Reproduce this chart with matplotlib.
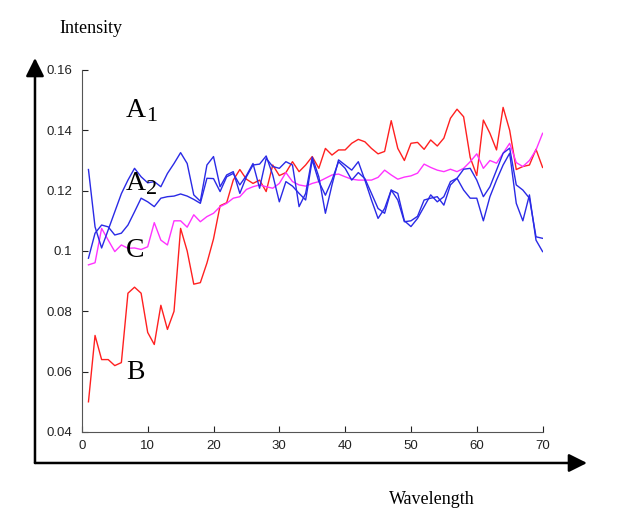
import numpy as np
import matplotlib.pyplot as plt
from matplotlib.patches import FancyArrowPatch

wl = np.arange(1, 71)

# кривая B (красная)
b_vals = [0.050, 0.072, 0.064, 0.064, 0.062, 0.063, 0.086, 0.088, 0.086, 0.073,
          0.069, 0.082, 0.074, 0.080, 0.1075, 0.100, 0.089, 0.0895, 0.096, 0.104,
          0.115, 0.116, 0.1235, 0.127, 0.1238, 0.1224, 0.1235, 0.1197, 0.1285, 0.125,
          0.126, 0.1296, 0.1263, 0.1285, 0.1313, 0.1274, 0.134, 0.1318, 0.1335, 0.1335,
          0.1357, 0.137, 0.1362, 0.134, 0.1322, 0.133, 0.1432, 0.134, 0.130, 0.1357,
          0.136, 0.1337, 0.1368, 0.1348, 0.1374, 0.144, 0.147, 0.1445, 0.131, 0.125,
          0.1434, 0.139, 0.1335, 0.1476, 0.140, 0.127, 0.128, 0.1285, 0.1337, 0.1277]

# кривая C (пурпурная)
c_vals = [0.0954, 0.0961, 0.1075, 0.1036, 0.0998, 0.102, 0.1009, 0.101, 0.1005, 0.1014,
          0.1094, 0.1036, 0.102, 0.110, 0.110, 0.1079, 0.112, 0.1097, 0.1114, 0.1125,
          0.1147, 0.1158, 0.1175, 0.118, 0.1204, 0.1213, 0.1219, 0.1213, 0.1208, 0.1224,
          0.126, 0.123, 0.1219, 0.1215, 0.1224, 0.123, 0.1241, 0.1252, 0.1255, 0.1246,
          0.1238, 0.1235, 0.1235, 0.1235, 0.1244, 0.1268, 0.1252, 0.1238, 0.1245, 0.1249,
          0.1258, 0.1288, 0.1277, 0.1268, 0.1263, 0.1271, 0.1263, 0.1274, 0.1296, 0.1322,
          0.1274, 0.130, 0.1291, 0.1324, 0.1357, 0.1293, 0.128, 0.130, 0.1335, 0.139]

# кривые A1, A2 (синие)
a1_vals = [0.127, 0.108, 0.101, 0.107, 0.113, 0.119, 0.1235, 0.1274, 0.1246, 0.1226,
           0.123, 0.1213, 0.1257, 0.129, 0.1326, 0.129, 0.1186, 0.1165, 0.1285, 0.1313,
           0.1213, 0.1252, 0.1263, 0.1191, 0.1246, 0.1285, 0.1288, 0.1315, 0.1252, 0.1163,
           0.123, 0.1215, 0.1191, 0.1169, 0.1302, 0.123, 0.1185, 0.1235, 0.1296, 0.1274,
           0.1235, 0.126, 0.124, 0.1191, 0.1141, 0.1125, 0.1202, 0.1169, 0.1097, 0.110,
           0.1115, 0.1169, 0.1175, 0.118, 0.1152, 0.1219, 0.1241, 0.1271, 0.1274, 0.1235,
           0.118, 0.1213, 0.1268, 0.1324, 0.1341, 0.1219, 0.1202, 0.1175, 0.1047, 0.1042]

a2_vals = [0.0976, 0.1059, 0.1086, 0.108, 0.1053, 0.1059, 0.1086, 0.113, 0.1175, 0.1163,
           0.1147, 0.1175, 0.118, 0.1182, 0.1189, 0.1182, 0.1171, 0.1158, 0.1241, 0.124,
           0.1197, 0.1246, 0.1257, 0.1219, 0.125, 0.129, 0.1208, 0.1307, 0.128, 0.1274,
           0.1296, 0.1285, 0.1147, 0.1191, 0.1311, 0.1246, 0.1125, 0.1219, 0.1302, 0.1285,
           0.1268, 0.1296, 0.1235, 0.1169, 0.1108, 0.1141, 0.1202, 0.1191, 0.110, 0.1081,
           0.1108, 0.1147, 0.1186, 0.1163, 0.118, 0.123, 0.1241, 0.1202, 0.1175, 0.1175,
           0.110, 0.118, 0.1235, 0.1285, 0.1324, 0.1158, 0.110, 0.1186, 0.1036, 0.0998]

x_ticks = [0, 10, 20, 30, 40, 50, 60, 70]
y_ticks = [0.04, 0.06, 0.08, 0.1, 0.12, 0.14, 0.16]
y_tick_labels = ['0.04', '0.06', '0.08', '0.1', '0.12', '0.14', '0.16']

fig = plt.figure(figsize=(6.17, 5.15), dpi=100)
ax = fig.add_axes([0.1327, 0.1612, 0.7467, 0.7029])

ax.plot(wl, b_vals, color='#ff2020', lw=1)
ax.plot(wl, c_vals, color='#ff33ff', lw=1)
ax.plot(wl, a1_vals, color='#2a2ae6', lw=1)
ax.plot(wl, a2_vals, color='#2a2ae6', lw=1)

ax.set_xlim(0, 70)
ax.set_ylim(0.04, 0.16)
ax.set_xticks(x_ticks)
ax.set_yticks(y_ticks)
ax.set_yticklabels(y_tick_labels)
ax.tick_params(direction='in', length=4, width=0.8, colors='#222222',
               labelsize=9.5, labelfontfamily='Liberation Sans')
ax.tick_params(axis='y', pad=7)
ax.tick_params(axis='x', pad=6)
ax.spines['top'].set_visible(False)
ax.spines['right'].set_visible(False)
for s in ['left', 'bottom']:
    ax.spines[s].set_color('#555555')
    ax.spines[s].set_linewidth(0.8)

# подписи кривых (индекс рисуем отдельно, крупнее чем в mathtext)
lbl = dict(fontsize=20, family='Liberation Serif', color='black')
sub = dict(fontsize=16, family='Liberation Serif', color='black',
           textcoords='offset points', xytext=(14.5, -2.5))
ax.text(6.7, 0.1444, 'A', **lbl)
ax.annotate('1', xy=(6.7, 0.1444), **sub)
ax.text(6.7, 0.1202, 'A', **lbl)
ax.annotate('2', xy=(6.7, 0.1202), **sub)
ax.text(6.7, 0.098, 'C', **lbl)
ax.text(6.7, 0.0576, 'B', **lbl)

# стрелки осей
arr = dict(arrowstyle='-|>,head_length=1.1,head_width=0.55', mutation_scale=10,
           color='black', lw=1.8, transform=fig.transFigure, shrinkA=0, shrinkB=0)
fig.add_artist(FancyArrowPatch((0.0567, 0.1010), (0.0567, 0.8874), **arr))
fig.add_artist(FancyArrowPatch((0.0567, 0.1010), (0.9514, 0.1010), **arr))

fig.text(0.147, 0.945, 'Intensity', fontsize=13, family='Liberation Serif',
         ha='center', va='center')
fig.text(0.70, 0.031, 'Wavelength', fontsize=13, family='Liberation Serif',
         ha='center', va='center')

plt.savefig('out.png', dpi=100)
